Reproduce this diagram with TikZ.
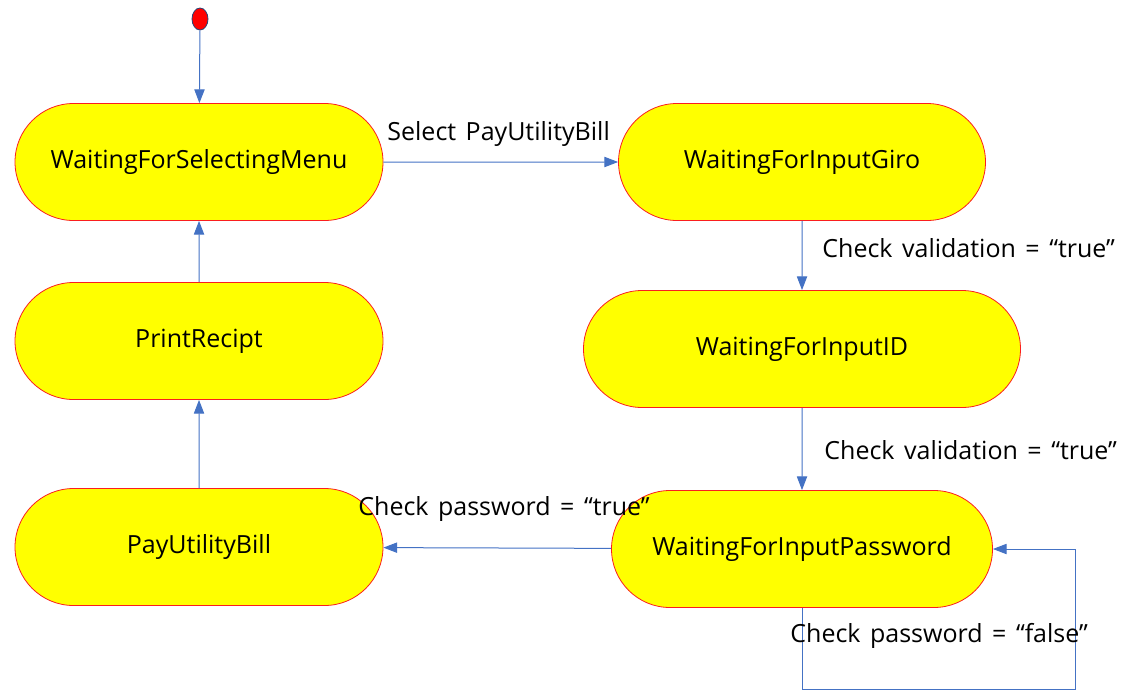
\documentclass[tikz,border=0pt]{standalone}
\usepackage{fontspec}
\setmainfont{Open Sans}
\usetikzlibrary{positioning,arrows.meta,shapes.misc,shapes.geometric}
\definecolor{stfill}{RGB}{255,255,0}
\definecolor{stline}{RGB}{250,30,30}
\definecolor{arr}{RGB}{68,114,196}
\newcommand\lblfont{\fontsize{12.5}{14}\selectfont\spaceskip=4.75pt\relax}
\tikzset{
  line/.style={-{Triangle[length=2.4mm,width=1.8mm]}, arr, line width=0.5pt},
  state/.style={rounded rectangle, draw=stline, fill=stfill, line width=0.4pt,
    minimum height=58.5pt, font=\fontsize{12.5}{14}\selectfont, inner sep=0pt},
  lbl/.style={font=\lblfont, inner sep=0pt, anchor=west}
}
\begin{document}
\begin{tikzpicture}[x=0.5pt, y=-0.5pt]
  \useasboundingbox (0,0) rectangle (1125,691);
  \node[ellipse, draw=arr!60!black, fill=red, minimum width=8pt, minimum height=11pt, inner sep=0pt] (init) at (200,19) {};

  \node[state, minimum width=184pt] (menu) at (199,162) {WaitingForSelectingMenu};
  \node[state, minimum width=183.5pt] (giro) at (802,162) {WaitingForInputGiro};
  \node[state, minimum width=218.5pt] (id) at (802,349) {WaitingForInputID};
  \node[state, minimum width=190.5pt] (pwd) at (802,549) {WaitingForInputPassword};
  \node[state, minimum width=184pt] (print) at (199,341) {PrintRecipt};
  \node[state, minimum width=184pt] (pay) at (199,547) {PayUtilityBill};

  \coordinate (lpA) at (802,689);
  \coordinate (lpB) at (1075,689);
  \coordinate (lpC) at (1075,549);

  \draw[line] (init) -- (menu);
  \draw[line] (menu) -- (giro);
  \draw[line] (giro) -- (id);
  \draw[line] (id) -- (pwd);
  \draw[line] (pwd) -- (pay);
  \draw[line] (pay) -- (print);
  \draw[line] (print) -- (menu);
  \draw[line] (pwd.south) -- (lpA) -- (lpB) -- (lpC) -- (pwd.east);

  \node[lbl] (l1) at (387,134) {Select PayUtilityBill};
  \node[lbl] (l2) at (822,248) {Check validation = “true”};
  \node[lbl] (l3) at (824,450) {Check validation = “true”};
  \node[lbl] (l4) at (358,509) {Check password = “true”};
  \node[lbl] (l5) at (790,636) {Check password = “false”};
\end{tikzpicture}
\end{document}
